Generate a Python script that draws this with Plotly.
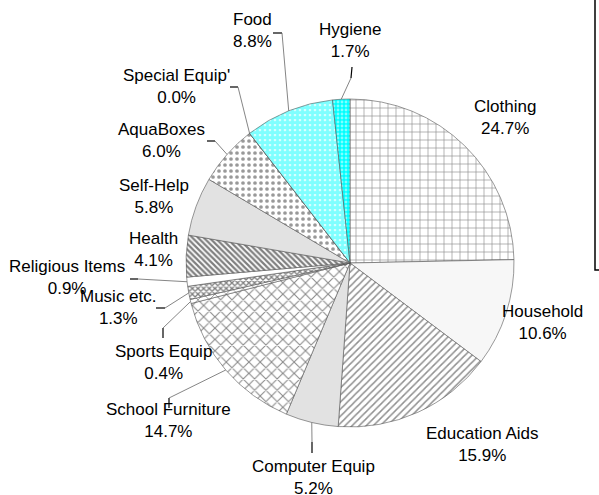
import math
import plotly.graph_objects as go

W, H = 599, 495

categories = ["Clothing", "Household", "Education Aids", "Computer Equip", "School Furniture",
              "Sports Equip", "Music etc.", "Religious Items", "Health", "Self-Help",
              "AquaBoxes", "Special Equip'", "Food", "Hygiene"]
values = [24.7, 10.6, 15.9, 5.2, 14.7, 0.4, 1.3, 0.9, 4.1, 5.8, 6.0, 0.0, 8.8, 1.7]

# styles per slice
bgcolors = ["#ffffff", "#f7f7f7", "#ffffff", "#e2e2e2", "#ffffff", "#ffffff", "#ffffff",
            "#ffffff", "#ffffff", "#e2e2e2", "#ffffff", "#ffffff", "#ffffff", "#00ffff"]
fgcolors = ["#111111", "#333333", "#222222", "#333333", "#111111", "#222222", "#000000",
            "#333333", "#000000", "#333333", "#333333", "#333333", "#00ffff", "#ffffff"]
shapes_p = ["+", "", "/", "", "x", "x", "x", "", "\\", "", ".", "", ".", "."]
sizes_p = [8, 8, 5, 8, 8, 8, 4, 8, 4, 8, 6, 8, 5, 4]
solid_p = [0.15, 0.3, 0.3, 0.3, 0.25, 0.2, 0.55, 0.3, 0.55, 0.3, 0.3, 0.3, 0.8, 0.4]

# label layout (pixel centres) and leader geometry (stub end, elbow), None = no leader
label_pos = [(505, 118), (542, 322), (482, 444), (313, 477), (168, 420), (163, 362),
             (118, 307), (67, 277), (153, 249), (154, 196), (161, 140), (176, 86),
             (252, 31), (350, 41)]
leaders = [None, None, None, ((312, 453), (312, 442)), ((169, 408), (169, 398)),
           ((163, 338), (163, 328)), ((156, 308), (165, 308)), ((130, 279), (138, 279)),
           None, None, ((207, 141), (215, 141)), ((230, 87), (238, 87)),
           ((273, 33), (282, 33)), ((352, 67), (351, 78))]

dom_x = [186 / W, 514 / W]
dom_y = [68 / H, 396 / H]

fig = go.Figure()
fig.add_trace(go.Pie(
    labels=categories, values=values, sort=False, direction="clockwise", rotation=0,
    textinfo="none", hoverinfo="skip", showlegend=False,
    domain=dict(x=dom_x, y=dom_y),
    marker=dict(colors=bgcolors, line=dict(color="#555555", width=0.6),
                pattern=dict(shape=shapes_p, fgcolor=fgcolors, bgcolor=bgcolors,
                             size=sizes_p, solidity=solid_p, fillmode="overlay")),
))

cx = (dom_x[0] + dom_x[1]) / 2 * W
cy = H - (dom_y[0] + dom_y[1]) / 2 * H
R = (dom_x[1] - dom_x[0]) * W / 2
total = sum(values)


def px(x):
    return x / W


def py(y):
    return 1 - y / H


annotations = []
shapes = []
cum = 0.0
for cat, v, lp, ld in zip(categories, values, label_pos, leaders):
    mid = (cum + v / 2) / total * 2 * math.pi
    cum += v
    ex = cx + R * math.sin(mid)
    ey = cy - R * math.cos(mid)
    annotations.append(dict(x=px(lp[0]), y=py(lp[1]), xref="paper", yref="paper",
                            text=f"{cat}<br>{v:.1f}%", showarrow=False,
                            xanchor="center", yanchor="middle",
                            font=dict(family="Liberation Sans, Arial", size=17, color="#000000")))
    if ld is not None:
        (sx, sy), (bx, by) = ld
        shapes.append(dict(type="line", xref="paper", yref="paper",
                           x0=px(sx), y0=py(sy), x1=px(bx), y1=py(by),
                           line=dict(color="#000000", width=1.2)))
        shapes.append(dict(type="line", xref="paper", yref="paper",
                           x0=px(bx), y0=py(by), x1=px(ex), y1=py(ey),
                           line=dict(color="#666666", width=0.8)))

# legend box fragment at the right edge
shapes.append(dict(type="rect", xref="paper", yref="paper",
                   x0=px(595), y0=py(270), x1=px(620), y1=py(-10),
                   line=dict(color="#000000", width=1.5), fillcolor="rgba(0,0,0,0)"))

fig.update_layout(width=W, height=H, margin=dict(l=0, r=0, t=0, b=0),
                  paper_bgcolor="#ffffff", plot_bgcolor="#ffffff",
                  annotations=annotations, shapes=shapes)

fig.write_html("out.html", config={"displayModeBar": False},
               post_script="document.body.style.margin='0px';document.body.style.overflow='hidden';")
